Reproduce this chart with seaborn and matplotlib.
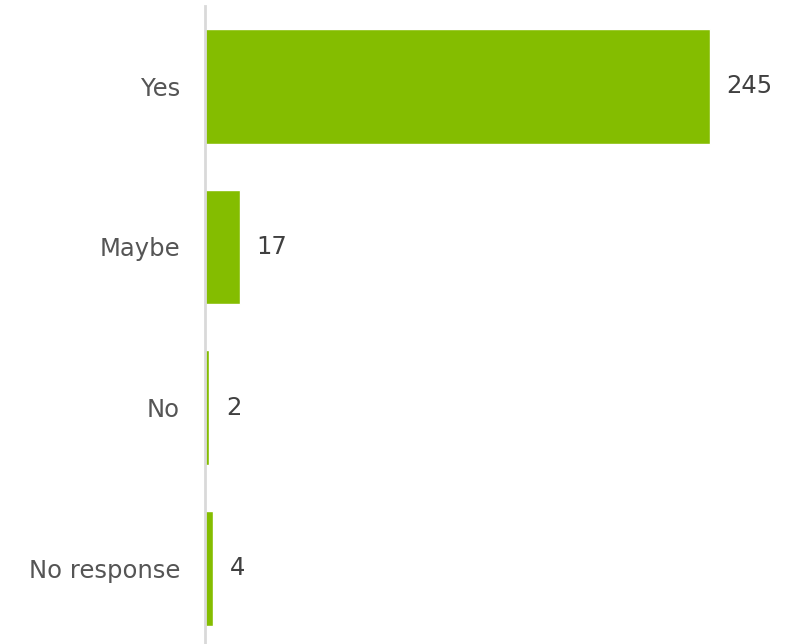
import matplotlib
matplotlib.use("Agg")
import matplotlib.pyplot as plt
import seaborn as sns
import pandas as pd

categories = ["Yes", "Maybe", "No", "No response"]
counts = [245, 17, 2, 4]

df = pd.DataFrame({"category": categories, "count": counts})

sns.set_style("white")
plt.rcParams['font.family'] = ['DejaVu Sans']

fig = plt.figure(figsize=(7.86, 6.44), dpi=100)
ax = fig.add_axes([205/786, -4.5/644, 581/786, 642.5/644])

sns.barplot(data=df, x="count", y="category", color="#84BD00", saturation=1,
            width=0.714, ax=ax, orient="h")

ax.set_xlim(0, 282)
ax.set_ylim(3.5, -0.5)
for c in ax.containers:
    ax.bar_label(c, labels=[str(v) for v in counts], padding=12,
                 fontsize=17.5, color="#404040")

ax.set_xlabel("")
ax.set_ylabel("")
ax.set_xticks([])
ax.tick_params(axis="y", length=0, pad=18, labelsize=17.5, labelcolor="#555555")
for s in ["top", "right", "bottom"]:
    ax.spines[s].set_visible(False)
ax.spines["left"].set_color("#d9d9d9")
ax.spines["left"].set_linewidth(2)

fig.savefig("out.png", dpi=100)
